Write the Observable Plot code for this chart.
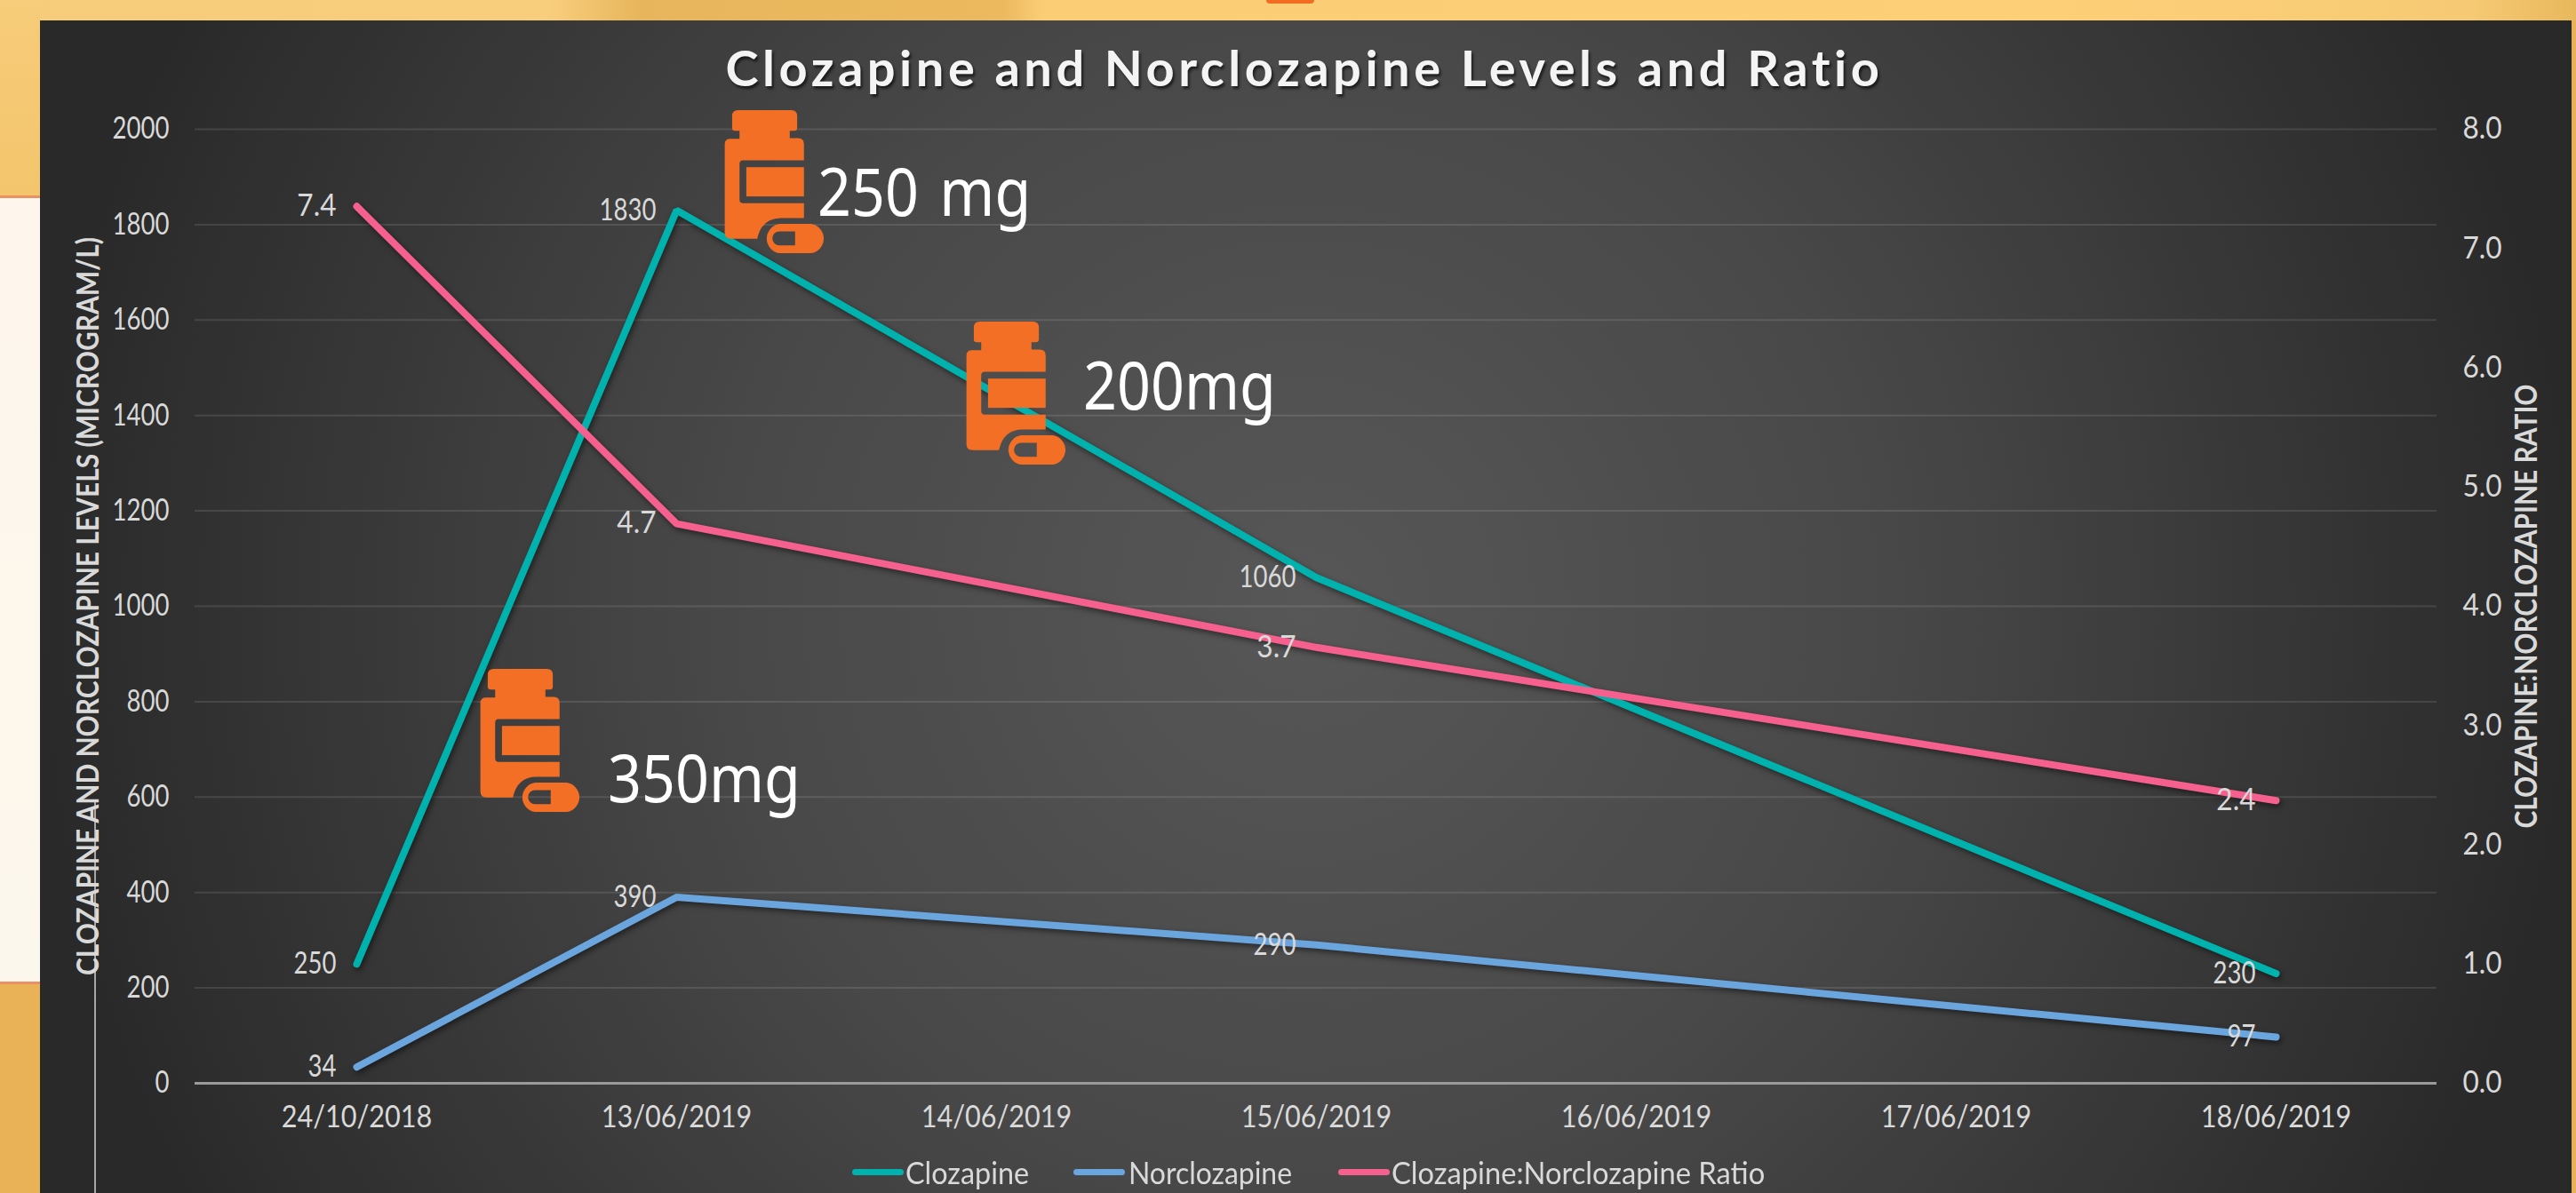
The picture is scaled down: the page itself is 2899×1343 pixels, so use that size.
<!DOCTYPE html>
<html>
<head>
<meta charset="utf-8">
<script src="https://cdn.jsdelivr.net/npm/d3@7"></script>
<script src="https://cdn.jsdelivr.net/npm/@observablehq/plot@0.6"></script>
<style>
html,body{margin:0;padding:0;width:2899px;height:1343px;overflow:hidden;background:#e9b257;}
#stage{position:relative;width:2899px;height:1343px;overflow:hidden;}
.abs{position:absolute;}
#panel{left:45px;top:23px;width:2849px;height:1320px;background:radial-gradient(circle 1440px at 1425px 657px,#575757 0%,#484848 46%,#292929 100%);}
#chart svg{position:absolute;left:0;top:0;}
.shadowed{filter:drop-shadow(2px 3px 3px rgba(0,0,0,.5));}
#title{left:0;width:2936px;top:42px;text-align:center;color:#f4f4f4;font:700 56px "Lato",sans-serif;letter-spacing:4.5px;text-shadow:2px 3px 3px rgba(0,0,0,.6);white-space:nowrap;}
.dose{color:#fff;font:400 75px "Noto Sans",sans-serif;line-height:1;white-space:nowrap;transform:scaleX(.885);transform-origin:0 0;}
.lg{color:#d9d9d9;font:400 34px "Lato",sans-serif;line-height:40px;top:1300px;white-space:nowrap;transform-origin:0 0;}
.sw{height:7px;top:1316px;border-radius:4px;}
</style>
</head>
<body>
<div id="stage">
  <div class="abs" style="left:0;top:0;width:2899px;height:23px;background:linear-gradient(90deg,#f6cb7a 0,#f8cd7c 620px,#e7b65c 720px,#ecb95e 1130px,#fbce76 1175px,#fdd078 2300px,#f6c974 2780px,#e8b85c 2899px)"></div>
  <div class="abs" style="left:0;top:0;width:45px;height:220px;background:linear-gradient(180deg,#f7cc7a,#f3c56c)"></div>
  <div class="abs" style="left:0;top:220px;width:45px;height:3px;background:#ee9161"></div>
  <div class="abs" style="left:0;top:223px;width:45px;height:882px;background:linear-gradient(180deg,#fef6ec,#fcf7ec)"></div>
  <div class="abs" style="left:0;top:1105px;width:45px;height:3px;background:#ee8f63"></div>
  <div class="abs" style="left:0;top:1108px;width:45px;height:235px;background:#e9b257"></div>
  <div class="abs" style="left:1425px;top:0;width:54px;height:4px;background:#f26c22;border-radius:0 0 10px 10px"></div>
  <div class="abs" id="panel"></div>
  <div class="abs" style="left:106px;top:900px;width:1.5px;height:443px;background:#a6a6a6"></div>
  <div class="abs" id="chart" style="left:0;top:0;width:2899px;height:1343px"></div>
  <div class="abs" id="title">Clozapine and Norclozapine Levels and Ratio</div>
  <div id="doses"></div>
  <div id="legend"></div>
</div>
<script>
const dates = ["24/10/2018","13/06/2019","14/06/2019","15/06/2019","16/06/2019","17/06/2019","18/06/2019"];
const sampledDates = ["24/10/2018","13/06/2019","15/06/2019","18/06/2019"];
const clozapine = [250,1830,1060,230];
const norclozapine = [34,390,290,97];
const ratio = [7.353,4.692,3.655,2.371];
const ratioScale = 250; // secondary axis 0–8 maps onto primary axis 0–2000
const seriesNames = ["Clozapine","Norclozapine","Clozapine:Norclozapine Ratio"];
const seriesColors = ["#00b2ad","#6ba5de","#f6608e"];
const leftTicks = [0,200,400,600,800,1000,1200,1400,1600,1800,2000];
const rightTicks = [0,1,2,3,4,5,6,7,8];
const leftTitle = "CLOZAPINE AND NORCLOZAPINE LEVELS (MICROGRAM/L)";
const rightTitle = "CLOZAPINE:NORCLOZAPINE RATIO";
const doseLabels = ["250 mg","200mg","350mg"];

const rows = [
  ...sampledDates.map((date,i)=>({date,series:seriesNames[0],y:clozapine[i],label:String(clozapine[i])})),
  ...sampledDates.map((date,i)=>({date,series:seriesNames[1],y:norclozapine[i],label:String(norclozapine[i])})),
  ...sampledDates.map((date,i)=>({date,series:seriesNames[2],y:ratio[i]*ratioScale,label:ratio[i].toFixed(1)}))
];

const tickInk = "#d9d9d9";
const plot = Plot.plot({
  width:2899,height:1343,
  marginLeft:219,marginRight:157,marginTop:145,marginBottom:124,
  style:{background:"transparent",fontFamily:'"Lato",sans-serif',fontSize:"34px",color:tickInk},
  x:{type:"point",domain:dates,padding:0.5},
  y:{domain:[0,2000]},
  color:{domain:seriesNames,range:seriesColors},
  marks:[
    Plot.ruleY(leftTicks.slice(1),{y:d=>d,stroke:"#fff",strokeOpacity:0.11,strokeWidth:2}),
    Plot.ruleY([0],{stroke:"#9a9a9a",strokeWidth:3}),
    Plot.axisY(leftTicks,{anchor:"left",tickSize:0,tickPadding:29,label:null,fill:tickInk,tickFormat:d=>String(d)}),
    Plot.axisY(rightTicks.map(d=>d*ratioScale),{anchor:"right",tickSize:0,tickPadding:29,label:null,fill:tickInk,tickFormat:d=>(d/ratioScale).toFixed(1)}),
    Plot.axisX(dates,{anchor:"bottom",tickSize:0,tickPadding:25,label:null,fill:tickInk,tickFormat:d=>d}),
    Plot.text([leftTitle],{frameAnchor:"left",textAnchor:"middle",dx:-119,rotate:-90,fill:tickInk,fontWeight:700,fontSize:34,text:d=>d}),
    Plot.text([rightTitle],{frameAnchor:"right",textAnchor:"middle",dx:102,rotate:-90,fill:tickInk,fontWeight:700,fontSize:34,text:d=>d}),
    Plot.line(rows,{x:"date",y:"y",z:"series",stroke:"series",strokeWidth:8,strokeLinecap:"round",strokeLinejoin:"miter",className:"shadowed"}),
    Plot.text(rows,{x:"date",y:"y",text:"label",textAnchor:"end",dx:-23,fill:tickInk})
  ]
});
document.getElementById("chart").appendChild(plot);

// The reference face is narrower than any installed font: squeeze each text to its measured width.
const fixedLengths = new Map([[leftTitle,831],[rightTitle,500]]);
plot.querySelectorAll("text").forEach(t=>{
  const s = t.textContent, w = t.getComputedTextLength();
  const target = fixedLengths.get(s) ?? w*(s.includes("/")?0.9:s.includes(".")?0.93:0.81);
  t.setAttribute("textLength",target);
  t.setAttribute("lengthAdjust","spacingAndGlyphs");
});

// pill-bottle annotations (decorative icons next to the dose labels)
const icon = (x,y)=>`<svg class="abs" style="left:${x}px;top:${y}px" width="115" height="161" viewBox="0 0 342 484" fill="#f36f25"><path d="M45 0H225Q245 0 245 20V60Q245 70 235 70H220V95H248Q268 95 268 115V170H62Q50 170 50 182V303Q50 315 62 315H268V365H190Q125 365 110 435H20Q0 435 0 415V115Q0 97 20 97H50V70H35Q25 70 25 60V20Q25 0 45 0Z"/><rect x="73" y="193" width="195" height="99"/><path fill-rule="evenodd" d="M185 385H292A50 50 0 0 1 292 484H185A50 50 0 0 1 185 385ZM185 410A24 24 0 0 0 185 458H238V410Z"/></svg>`;
const doseIcons = [[815,124],[1087,362],[540,753]];
const doseText = [[920,238],[1219,456],[684,898]];
document.getElementById("doses").innerHTML =
  doseIcons.map(([x,y])=>icon(x,y)).join("") +
  doseLabels.map((t,i)=>`<div class="abs dose" style="left:${doseText[i][0]}px;top:${doseText[i][1]-61}px;word-spacing:7px">${t}</div>`).join("");

// legend
const legendPos = [[959,1019,139],[1208,1270,184],[1506,1566,420]];
document.getElementById("legend").innerHTML = seriesNames.map((n,i)=>
  `<div class="abs sw" style="left:${legendPos[i][0]}px;width:58px;background:${seriesColors[i]}"></div>`+
  `<div class="abs lg" data-w="${legendPos[i][2]}" style="left:${legendPos[i][1]}px">${n}</div>`).join("");
document.querySelectorAll(".lg").forEach(el=>{
  el.style.transform = `scaleX(${+el.dataset.w/el.offsetWidth})`;
});
</script>
</body>
</html>
